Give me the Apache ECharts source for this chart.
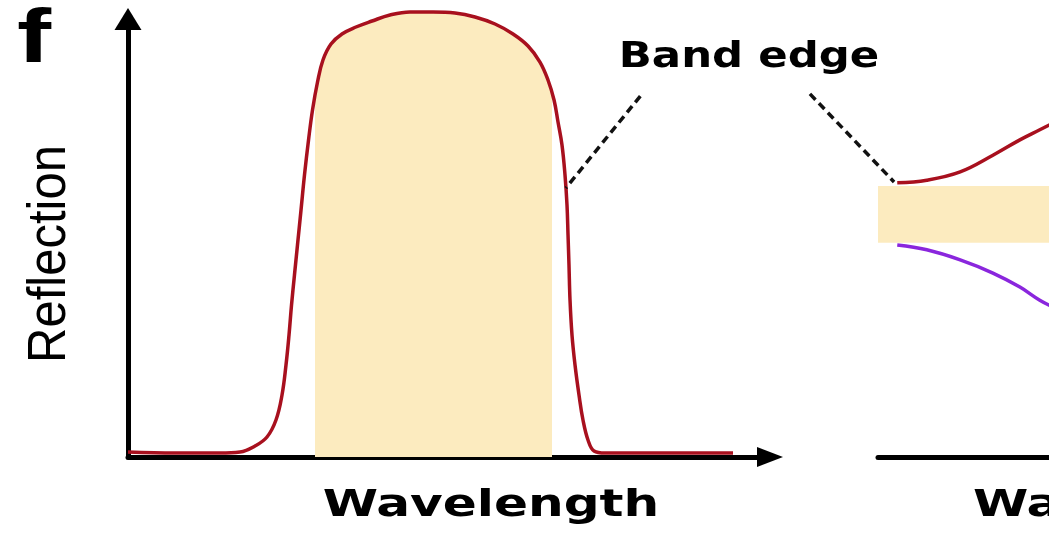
<!DOCTYPE html>
<html>
<head>
<meta charset="utf-8">
<script src="https://cdn.jsdelivr.net/npm/echarts@6/dist/echarts.min.js"></script>
<style>
  html, body { margin: 0; padding: 0; background: #fff; }
  #chart { width: 1049px; height: 533px; }
</style>
</head>
<body>
<div id="chart"></div>
<script>
// left panel: reflection spectrum (arbitrary units)
const wavelength = [0, 7.32, 14.33, 17.45, 19.78, 21.65, 23.05, 23.99, 24.61, 25.08, 25.47, 25.93, 26.4, 26.95, 27.49, 28.12, 28.74, 29.52, 30.37, 31.62, 33.33, 35.51, 38.01, 40.81, 43.93, 47.51, 50.93, 54.05, 57.17, 59.97, 62.31, 64.17, 65.42, 66.36, 66.98, 67.6, 68.07, 68.38, 68.54, 68.69, 68.85, 69.16, 69.63, 70.25, 70.87, 71.65, 72.59, 74.3, 79.75, 87.54, 94.24];
const reflection = [1.14, 0.91, 0.91, 1.14, 2.51, 4.57, 8.45, 14.16, 21.0, 27.85, 34.7, 41.55, 48.4, 56.39, 64.38, 72.37, 79.22, 85.62, 90.64, 94.29, 96.58, 98.17, 99.54, 100.91, 101.6, 101.6, 101.37, 100.46, 98.86, 96.58, 93.84, 90.18, 86.07, 81.51, 76.48, 71.23, 64.38, 57.53, 50.68, 43.84, 35.84, 27.85, 21.0, 14.16, 8.45, 3.88, 1.37, 0.91, 0.91, 0.91, 0.91];
const stopBand = [29.1, 66.0];

// right panel: band edges
const edgeX = [3.0, 7.6, 12.8, 17.9, 22.1, 25.2, 27.6];
const upperEdge = [62.6, 63.2, 65.1, 68.9, 72.4, 74.7, 76.5];
const lowerEdge = [48.4, 47.3, 45.0, 42.0, 38.8, 35.8, 34.0];
const gapBand = [48.9, 61.9];

// "Band edge" pointers (data units of each panel)
const pointerLeft = [[79.8, 82.4], [68.2, 61.4]];
const pointerRight = [[-10.6, 82.9], [2.5, 62.8]];

const RED = '#a8101e';
const PURPLE = '#8a26dd';
const YELLOW = '#fcebbf';

const zip = (xs, ys) => xs.map((x, i) => [x, ys[i]]);

const axisX = (idx, max) => ({
  type: 'value', gridIndex: idx, min: 0, max: max,
  axisLine: { show: true, symbol: idx === 0 ? ['none', 'triangle'] : 'none', symbolSize: [20, 26],
    lineStyle: { color: '#000', width: 5 } },
  axisTick: { show: false }, axisLabel: { show: false }, splitLine: { show: false }
});
const axisY = (idx) => ({
  type: 'value', gridIndex: idx, min: 0, max: 100,
  axisLine: { show: idx === 0, symbol: ['none', 'triangle'], symbolSize: [27, 22],
    lineStyle: { color: '#000', width: 5 } },
  axisTick: { show: false }, axisLabel: { show: false }, splitLine: { show: false }
});

const chart = echarts.init(document.getElementById('chart'));
chart.setOption({
  animation: false,
  backgroundColor: '#fff',
  grid: [
    { left: 128, top: 19, width: 642, height: 438, outerBoundsMode: 'none' },
    { left: 878, top: 19, width: 256.8, height: 438, outerBoundsMode: 'none' }
  ],
  xAxis: [axisX(0, 100), axisX(1, 40)],
  yAxis: [axisY(0), axisY(1)],
  visualMap: {
    show: false, type: 'piecewise', seriesIndex: 0, dimension: 0,
    pieces: [{ min: stopBand[0], max: stopBand[1], color: YELLOW }],
    outOfRange: { color: 'rgba(255,255,255,0)' }
  },
  series: [
    {
      type: 'line', xAxisIndex: 0, yAxisIndex: 0, data: zip(wavelength, reflection),
      smooth: 0.4, showSymbol: false, clip: false, silent: true, z: 1,
      lineStyle: { width: 0, opacity: 0 },
      areaStyle: { opacity: 1 }
    },
    {
      type: 'line', xAxisIndex: 0, yAxisIndex: 0, data: zip(wavelength, reflection),
      smooth: 0.4, showSymbol: false, clip: false, silent: true, z: 3,
      lineStyle: { color: RED, width: 3.5 }
    },
    {
      type: 'line', xAxisIndex: 1, yAxisIndex: 1, data: zip(edgeX, upperEdge),
      smooth: 0.4, showSymbol: false, clip: false, silent: true, z: 3,
      lineStyle: { color: RED, width: 3.5 },
      markArea: {
        silent: true,
        itemStyle: { color: YELLOW },
        data: [[{ xAxis: 0, yAxis: gapBand[0] }, { xAxis: 40, yAxis: gapBand[1] }]]
      }
    },
    {
      type: 'line', xAxisIndex: 1, yAxisIndex: 1, data: zip(edgeX, lowerEdge),
      smooth: 0.4, showSymbol: false, clip: false, silent: true, z: 3,
      lineStyle: { color: PURPLE, width: 3.5 }
    }
  ]
});

// annotations
const px = (g, p) => chart.convertToPixel({ gridIndex: g }, p);
const dashed = (g, pts) => {
  const a = px(g, pts[0]), b = px(g, pts[1]);
  return {
    type: 'line', silent: true, z: 10,
    shape: { x1: a[0], y1: a[1], x2: b[0], y2: b[1] },
    style: { stroke: '#111', lineWidth: 3.5, lineDash: [8, 5] }
  };
};
const label = (text, x, y, font, extra) => Object.assign({
  type: 'text', x: x, y: y, silent: true, z: 10,
  style: Object.assign({ text: text, fill: '#000', align: 'center', verticalAlign: 'middle' }, font)
}, extra || {});

const boldFont = { fontFamily: 'DejaVu Sans', fontWeight: 'bold', fontSize: 35 };
const axisFont = Object.assign({}, boldFont, { fontSize: 38 });

chart.setOption({
  graphic: [
    dashed(0, pointerLeft),
    dashed(1, pointerRight),
    label('f', 34, 41, { fontFamily: 'Liberation Sans', fontWeight: 'bold', fontSize: 76 }, { scaleX: 1.35 }),
    label('Reflection', 50, 254, { fontFamily: 'Liberation Sans', fontSize: 49 }, { rotation: Math.PI / 2, scaleY: 1.1 }),
    label('Band edge', 749, 58, boldFont, { scaleX: 1.24 }),
    label('Wavelength', 491, 506, axisFont, { scaleX: 1.32 }),
    label('Wavelength', 973, 506, Object.assign({}, axisFont, { align: 'left' }), { scaleX: 1.32 })
  ]
});
</script>
</body>
</html>
